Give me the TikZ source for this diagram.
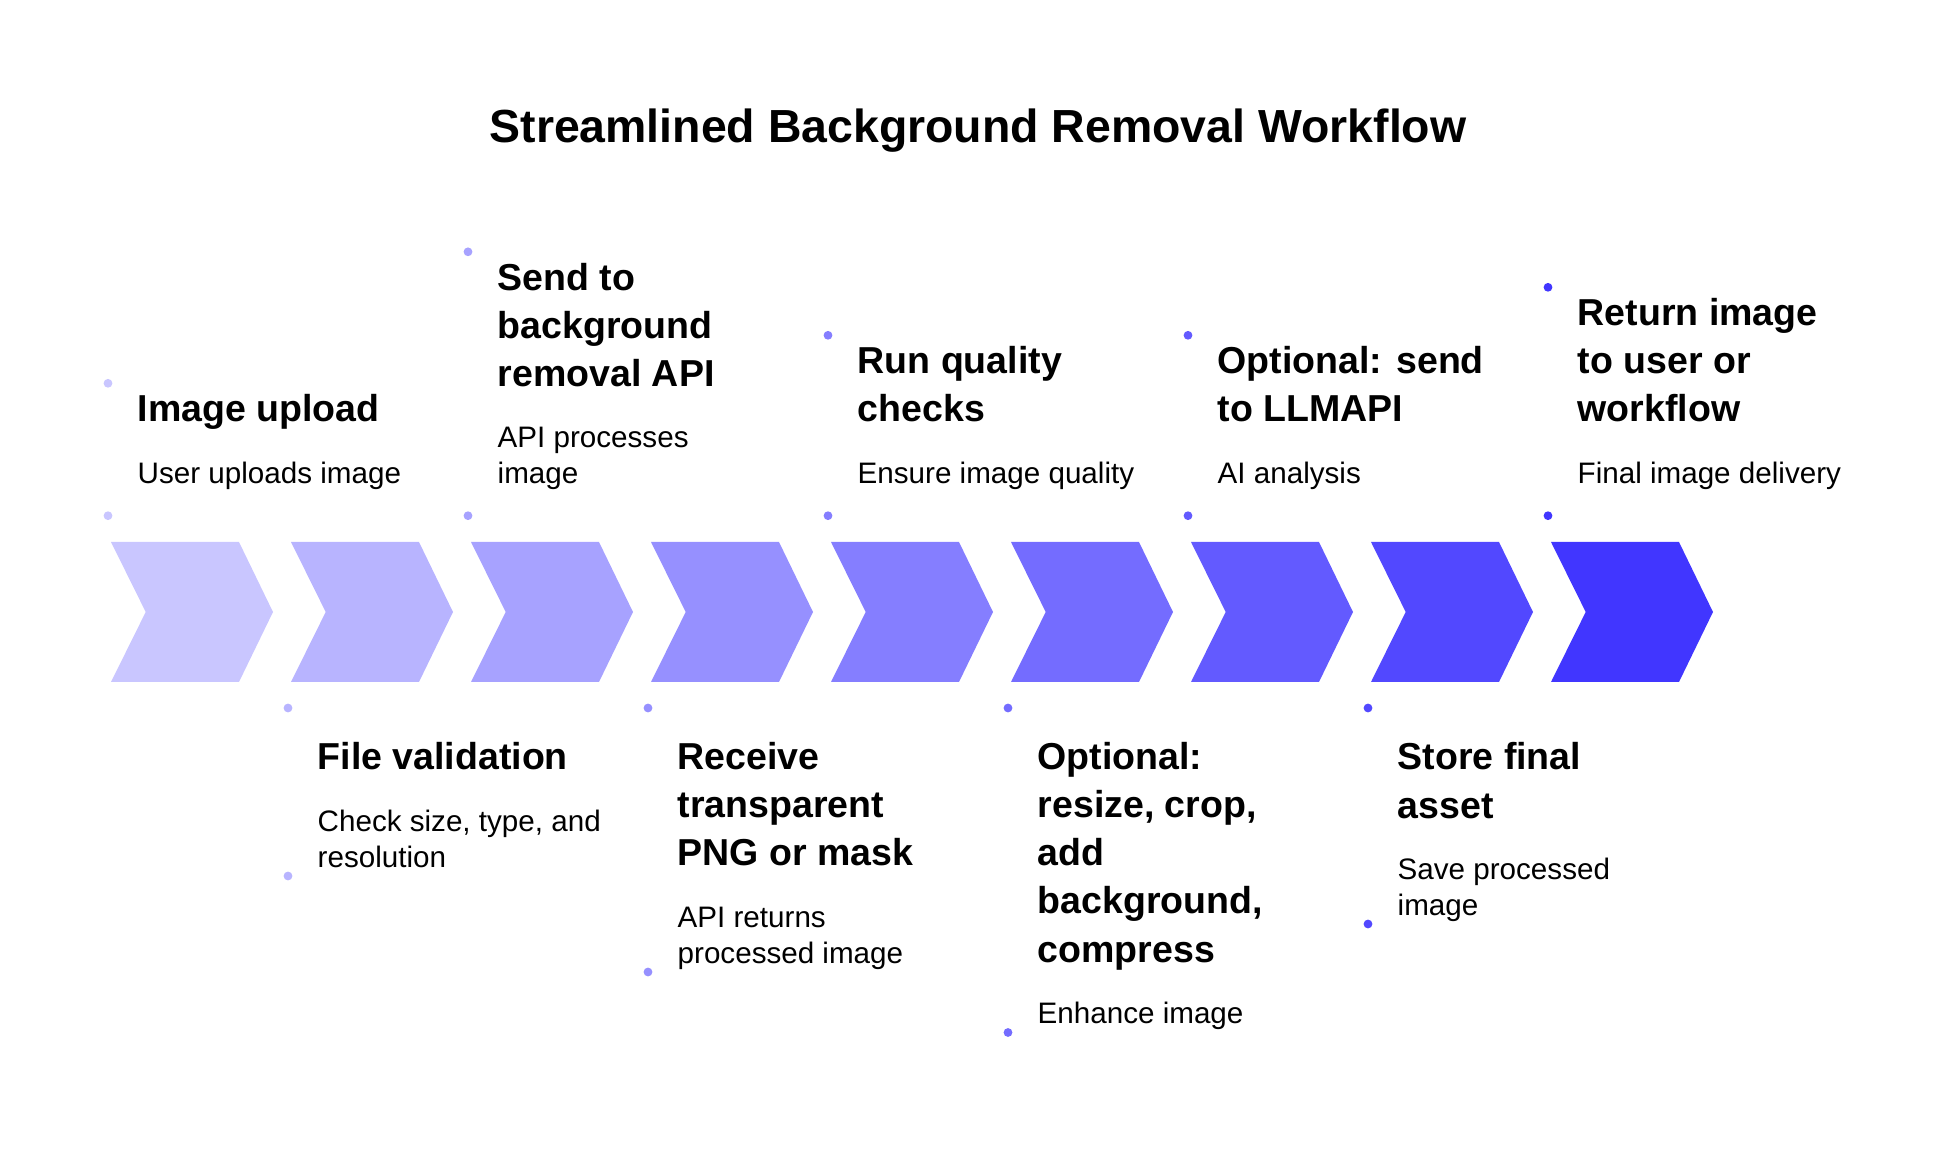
\documentclass[tikz,border=0pt]{standalone}
\usepackage{fontspec}
\setmainfont{Liberation Sans}
\definecolor{c1}{HTML}{C9C6FF}
\definecolor{c2}{HTML}{B8B4FF}
\definecolor{c3}{HTML}{A7A2FF}
\definecolor{c4}{HTML}{9690FF}
\definecolor{c5}{HTML}{857EFF}
\definecolor{c6}{HTML}{746CFF}
\definecolor{c7}{HTML}{635AFF}
\definecolor{c8}{HTML}{5248FF}
\definecolor{c9}{HTML}{4136FF}
\tikzset{
  headline/.style={anchor=base, inner sep=0pt, font=\fontsize{13.2pt}{16pt}\selectfont\bfseries},
  steptitle/.style={anchor=base west, inner sep=0pt, align=left, font=\fontsize{10.67pt}{13.66pt}\selectfont\bfseries},
  stepdesc/.style={anchor=base west, inner sep=0pt, align=left, font=\fontsize{8.42pt}{10.1pt}\selectfont},
  dot/.style={radius=1.25pt}
}
\begin{document}
\begin{tikzpicture}[x=0.01cm, y=-0.01cm]
\useasboundingbox (0,0) rectangle (1956,1176);

\node[headline] (H) at (978, 142.7) {Streamlined Background Removal Workflow};

\fill[c1] (111,542) -- ++(128,0) -- ++(34,70) -- ++(-34,70) -- ++(-128,0) -- ++(34.7,-70) -- cycle;
\fill[c2] (291,542) -- ++(128,0) -- ++(34,70) -- ++(-34,70) -- ++(-128,0) -- ++(34.7,-70) -- cycle;
\fill[c3] (471,542) -- ++(128,0) -- ++(34,70) -- ++(-34,70) -- ++(-128,0) -- ++(34.7,-70) -- cycle;
\fill[c4] (651,542) -- ++(128,0) -- ++(34,70) -- ++(-34,70) -- ++(-128,0) -- ++(34.7,-70) -- cycle;
\fill[c5] (831,542) -- ++(128,0) -- ++(34,70) -- ++(-34,70) -- ++(-128,0) -- ++(34.7,-70) -- cycle;
\fill[c6] (1011,542) -- ++(128,0) -- ++(34,70) -- ++(-34,70) -- ++(-128,0) -- ++(34.7,-70) -- cycle;
\fill[c7] (1191,542) -- ++(128,0) -- ++(34,70) -- ++(-34,70) -- ++(-128,0) -- ++(34.7,-70) -- cycle;
\fill[c8] (1371,542) -- ++(128,0) -- ++(34,70) -- ++(-34,70) -- ++(-128,0) -- ++(34.7,-70) -- cycle;
\fill[c9] (1551,542) -- ++(128,0) -- ++(34,70) -- ++(-34,70) -- ++(-128,0) -- ++(34.7,-70) -- cycle;

\node[steptitle] (S1) at (137, 421.8) {Image upload};
\node[stepdesc] (D1) at (137, 483.3) {User uploads image};
\fill[c1] (108,383.3) circle[dot];
\fill[c1] (108,515.7) circle[dot];

\node[steptitle] (S2) at (317, 770) {File validation};
\node[stepdesc] (D2) at (317, 867) {Check size, type, and\\resolution};
\fill[c2] (288,708) circle[dot];
\fill[c2] (288,876) circle[dot];

\node[steptitle] (S3) at (497, 386.3) {Send to\\background\\removal API};
\node[stepdesc] (D3) at (497, 483.3) {API processes\\image};
\fill[c3] (468,251.8) circle[dot];
\fill[c3] (468,515.7) circle[dot];

\node[steptitle] (S4) at (677, 866) {Receive\\transparent\\PNG or mask};
\node[stepdesc] (D4) at (677, 963) {API returns\\processed image};
\fill[c4] (648,708) circle[dot];
\fill[c4] (648,972) circle[dot];

\node[steptitle] (S5) at (857, 421.8) {Run quality\\checks};
\node[stepdesc] (D5) at (857, 483.3) {Ensure image quality};
\fill[c5] (828,335.3) circle[dot];
\fill[c5] (828,515.7) circle[dot];

\node[steptitle] (S6) at (1037, 962) {Optional:\\resize, crop,\\add\\background,\\compress};
\node[stepdesc] (D6) at (1037, 1023.5) {Enhance image};
\fill[c6] (1008,708) circle[dot];
\fill[c6] (1008,1032.5) circle[dot];

\node[steptitle] (S7) at (1217, 421.8) {Optional: send\\to LLMAPI};
\node[stepdesc] (D7) at (1217, 483.3) {AI analysis};
\fill[c7] (1188,335.3) circle[dot];
\fill[c7] (1188,515.7) circle[dot];

\node[steptitle] (S8) at (1397, 818) {Store final\\asset};
\node[stepdesc] (D8) at (1397, 915) {Save processed\\image};
\fill[c8] (1368,708) circle[dot];
\fill[c8] (1368,924) circle[dot];

\node[steptitle] (S9) at (1577, 421.8) {Return image\\to user or\\workflow};
\node[stepdesc] (D9) at (1577, 483.3) {Final image delivery};
\fill[c9] (1548,287.3) circle[dot];
\fill[c9] (1548,515.7) circle[dot];
\end{tikzpicture}
\end{document}
